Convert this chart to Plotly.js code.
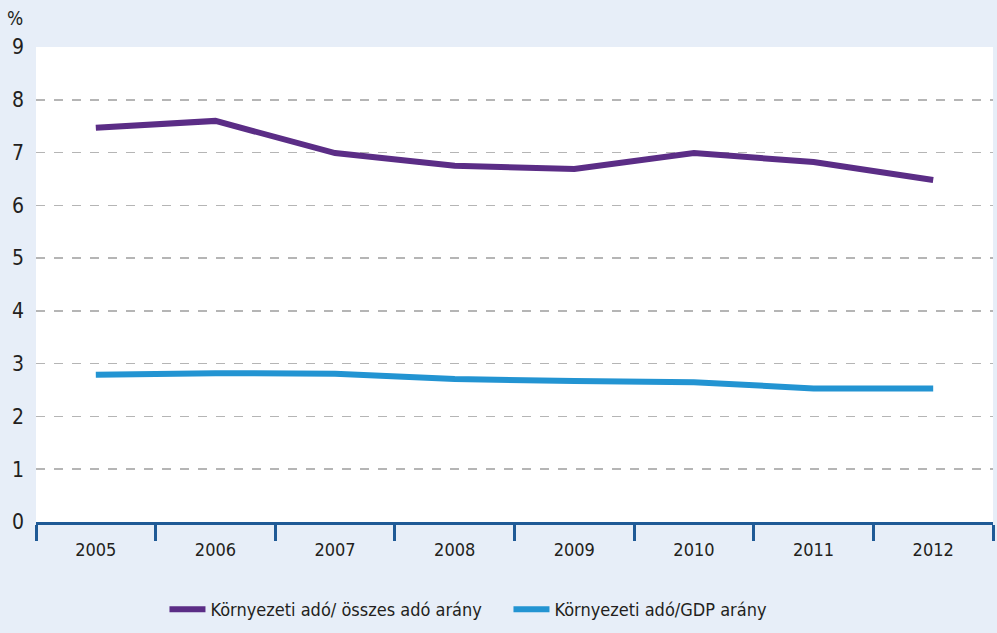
<!DOCTYPE html>
<html>
<head>
<meta charset="utf-8">
<script src="https://cdn.plot.ly/plotly-3.0.1.min.js"></script>
<style>
html,body{margin:0;padding:0;background:#e7eef8;}
#chart{width:997px;height:633px;}
</style>
</head>
<body>
<div id="chart"></div>
<script>
const years = ['2005','2006','2007','2008','2009','2010','2011','2012'];
const shareOfTotalTax = [7.47, 7.60, 6.99, 6.75, 6.69, 6.99, 6.82, 6.48];
const shareOfGDP = [2.79, 2.82, 2.81, 2.71, 2.67, 2.65, 2.53, 2.53];
const seriesNames = ['Környezeti adó/ összes adó arány', 'Környezeti adó/GDP arány'];
const yTicks = [0,1,2,3,4,5,6,7,8,9];

const font = 'DejaVu Sans Condensed, Liberation Sans Narrow, sans-serif';

const traces = [
  {x: years, y: shareOfTotalTax, name: seriesNames[0], type: 'scatter', mode: 'lines',
   line: {color: '#5b2d86', width: 6}},
  {x: years, y: shareOfGDP, name: seriesNames[1], type: 'scatter', mode: 'lines',
   line: {color: '#2394d2', width: 6}}
];

const layout = {
  width: 997, height: 633,
  paper_bgcolor: '#e7eef8',
  plot_bgcolor: '#ffffff',
  margin: {l: 36, r: 4, t: 47, b: 111, autoexpand: false},
  font: {family: font, size: 18, color: '#231f20'},
  showlegend: true,
  legend: {orientation: 'h', xref: 'container', yref: 'container',
           x: 0.51, xanchor: 'center', y: 0.037, yanchor: 'middle',
           font: {family: font, size: 18, color: '#231f20'}, itemwidth: 36,
           entrywidth: 293, traceorder: 'normal', bgcolor: 'rgba(0,0,0,0)'},
  xaxis: {
    type: 'category', tickvals: years, ticktext: years,
    tickson: 'boundaries', ticks: 'outside', ticklen: 16, tickwidth: 3, tickcolor: '#1f5a96',
    showline: true, linecolor: '#1f5a96', linewidth: 3,
    showgrid: false, zeroline: false, range: [-0.5, 7.5], ticklabelstandoff: 9,
    tickfont: {family: font, size: 18, color: '#231f20'}
  },
  yaxis: {
    range: [0, 9], tickvals: yTicks, ticks: '', showline: false,
    showgrid: true, gridcolor: '#b5b5b5', griddash: 'dash', gridwidth: 1.5,
    zeroline: false, ticklabelstandoff: 11,
    tickfont: {family: font, size: 21, color: '#231f20'}
  },
  annotations: [
    {text: '%', xref: 'paper', yref: 'paper', x: 0, y: 1, xshift: -21, yshift: 29,
     xanchor: 'center', yanchor: 'middle', showarrow: false,
     font: {family: font, size: 19, color: '#231f20'}}
  ]
};

Plotly.newPlot('chart', traces, layout, {displayModeBar: false, staticPlot: true});
</script>
</body>
</html>
